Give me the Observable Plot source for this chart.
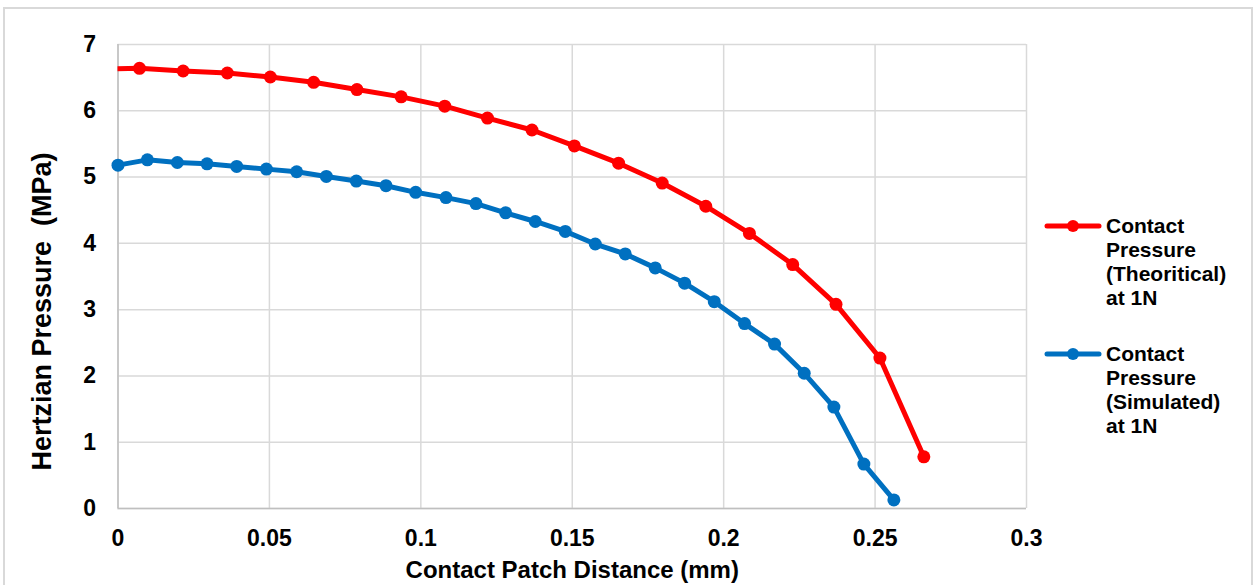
<!DOCTYPE html>
<html>
<head>
<meta charset="utf-8">
<script src="https://cdn.jsdelivr.net/npm/d3@7"></script>
<script src="https://cdn.jsdelivr.net/npm/@observablehq/plot@0.6"></script>
<style>
  body { margin: 0; background: #fff; font-family: "Liberation Sans", Arial, sans-serif; }
  #wrap { position: relative; width: 1256px; height: 585px; overflow: hidden; background: #fff; }
  #frame { position: absolute; left: 3px; top: 7px; width: 1250px; height: 600px; border: 2px solid #d9d9d9; box-sizing: border-box; }
  #chart { position: absolute; left: 0; top: 0; }
  #legend { position: absolute; left: 1044px; top: 214px; font-weight: bold; font-size: 21px; color: #000; }
  .item { display: flex; align-items: flex-start; margin-bottom: 32px; }
  .item svg { flex: none; margin-top: 5px; margin-right: 4px; }
  .item div { line-height: 24px; }
</style>
</head>
<body>
<div id="wrap">
  <div id="frame"></div>
  <div id="chart"></div>
  <div id="legend"></div>
</div>
<script>
// Axis ticks and titles
const xTicks = [0, 0.05, 0.1, 0.15, 0.2, 0.25, 0.3];
const yTicks = [0, 1, 2, 3, 4, 5, 6, 7];
const xTitle = "Contact Patch Distance (mm)";
const yTitle = "Hertzian Pressure \u00a0(MPa)";

// Theoretical Hertzian contact pressure at 1 N (first point lies just left of the origin)
const theoX = [-0.0073, 0.0071, 0.0215, 0.0361, 0.0503, 0.0646, 0.0789, 0.0935, 0.1079, 0.1220,
               0.1367, 0.1507, 0.1653, 0.1797, 0.1941, 0.2085, 0.2228, 0.2371, 0.2516, 0.2661];
const theoP = [6.63, 6.64, 6.60, 6.57, 6.51, 6.43, 6.32, 6.21, 6.07, 5.89,
               5.71, 5.47, 5.21, 4.91, 4.56, 4.15, 3.68, 3.08, 2.27, 0.78];

// Simulated contact pressure at 1 N
const simX = [0, 0.0097, 0.0196, 0.0294, 0.0392, 0.0490, 0.0590, 0.0688, 0.0787, 0.0885,
              0.0983, 0.1083, 0.1182, 0.1280, 0.1378, 0.1477, 0.1576, 0.1675, 0.1774, 0.1871,
              0.1969, 0.2069, 0.2168, 0.2266, 0.2364, 0.2463, 0.2562];
const simP = [5.18, 5.26, 5.22, 5.20, 5.16, 5.12, 5.08, 5.01, 4.94, 4.87,
              4.77, 4.69, 4.60, 4.46, 4.33, 4.18, 3.99, 3.84, 3.63, 3.40,
              3.12, 2.79, 2.48, 2.04, 1.53, 0.67, 0.13];

const seriesNames = ["Contact\nPressure\n(Theoritical)\nat 1N", "Contact\nPressure\n(Simulated)\nat 1N"];
const seriesColors = ["#ff0000", "#0070c0"];

const theo = theoX.map((x, i) => ({x, p: theoP[i]}));
const sim = simX.map((x, i) => ({x, p: simP[i]}));

const fontFamily = '"Liberation Sans", Arial, sans-serif';

const chart = Plot.plot({
  width: 1256,
  height: 585,
  marginLeft: 117.5,
  marginRight: 230,
  marginTop: 44,
  marginBottom: 77,
  style: { fontFamily, fontSize: "23px", fontWeight: "bold", color: "#000", background: "transparent", overflow: "visible" },
  x: { domain: [0, 0.3] },
  y: { domain: [0, 7] },
  marks: [
    Plot.gridX(xTicks, { stroke: "#d9d9d9", strokeOpacity: 1, strokeWidth: 1.5 }),
    Plot.gridY(yTicks, { stroke: "#d9d9d9", strokeOpacity: 1, strokeWidth: 1.5 }),
    Plot.ruleX([0], { stroke: "#bfbfbf", strokeWidth: 1.5 }),
    Plot.ruleY([0], { stroke: "#bfbfbf", strokeWidth: 1.5 }),
    Plot.axisX({ ticks: xTicks, tickSize: 0, tickPadding: 21, tickFormat: d => String(d), label: null, fontSize: 23 }),
    Plot.axisY({ ticks: yTicks, tickSize: 0, tickPadding: 22, tickFormat: d => String(d), label: null, fontSize: 23 }),
    // Axis titles
    Plot.text([xTitle], { text: d => d, frameAnchor: "bottom", textAnchor: "middle", lineAnchor: "middle",
                          dy: 62, fontSize: 24, fontWeight: "bold", fill: "#000" }),
    Plot.text([yTitle], { text: d => d, frameAnchor: "left", textAnchor: "middle", lineAnchor: "middle",
                          rotate: -90, dx: -76, dy: 35, fontSize: 27, fontWeight: "bold", fill: "#000" }),
    // Series
    Plot.line(theo, { x: "x", y: "p", stroke: seriesColors[0], strokeWidth: 5, strokeLinejoin: "round", strokeLinecap: "round", clip: true }),
    Plot.dot(theo, { x: "x", y: "p", r: 6.5, fill: seriesColors[0], stroke: "none", clip: true }),
    Plot.line(sim, { x: "x", y: "p", stroke: seriesColors[1], strokeWidth: 5, strokeLinejoin: "round", strokeLinecap: "round" }),
    Plot.dot(sim, { x: "x", y: "p", r: 6.5, fill: seriesColors[1], stroke: "none" })
  ]
});
document.getElementById("chart").appendChild(chart);

// Legend: line-and-marker swatch beside a wrapped series name
const legend = d3.select("#legend");
seriesNames.forEach((name, i) => {
  const item = legend.append("div").attr("class", "item");
  const sw = item.append("svg").attr("width", 58).attr("height", 14);
  sw.append("line").attr("x1", 3).attr("x2", 55).attr("y1", 7).attr("y2", 7)
    .attr("stroke", seriesColors[i]).attr("stroke-width", 5).attr("stroke-linecap", "round");
  sw.append("circle").attr("cx", 29).attr("cy", 7).attr("r", 6).attr("fill", seriesColors[i]);
  item.append("div").html(name.split("\n").join("<br>"));
});
</script>
</body>
</html>
